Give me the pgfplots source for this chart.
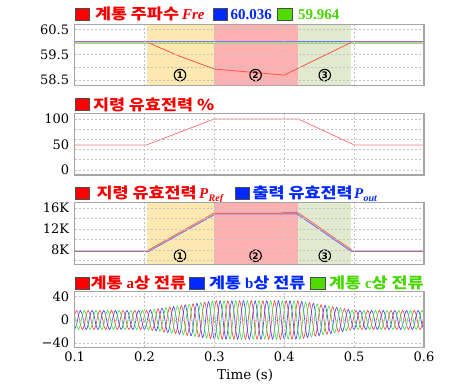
\documentclass[border=0pt]{standalone}
\usepackage{pgfplots}
\usepackage{pgfplotstable}
\pgfplotsset{compat=1.18}
\usepackage{fontspec}
\setmainfont{DejaVu Serif}
\newfontfamily\kr{Noto Sans CJK KR}[FakeStretch=1.16]
\newfontfamily\tms{Liberation Serif}
\newfontfamily\dvs{DejaVu Sans}
\definecolor{shY}{RGB}{253,232,176}
\definecolor{shR}{RGB}{255,176,176}
\definecolor{shG}{RGB}{225,233,207}
\definecolor{txR}{RGB}{245,0,0}
\definecolor{txB}{RGB}{0,40,255}
\definecolor{txG}{RGB}{70,215,0}
\definecolor{sqR}{RGB}{255,0,0}
\definecolor{sqB}{RGB}{0,40,255}
\definecolor{sqG}{RGB}{80,220,0}
\definecolor{lnR}{RGB}{255,85,70}
\definecolor{lnB}{RGB}{120,110,255}
\definecolor{lnG}{RGB}{140,225,110}
\definecolor{wR}{RGB}{255,60,60}
\definecolor{wB}{RGB}{60,60,255}
\definecolor{wG}{RGB}{60,225,60}
\definecolor{frame}{RGB}{165,165,165}
\definecolor{gridc}{RGB}{195,195,195}

\pgfplotstableread{
t a b c
0.1000 8.25 -16.5 8.25
0.1028 16.5 -8.25 -8.25
0.1056 8.25 8.25 -16.5
0.1083 -8.25 16.5 -8.25
0.1111 -16.5 8.25 8.25
0.1139 -8.25 -8.25 16.5
0.1167 8.25 -16.5 8.25
0.1194 16.5 -8.25 -8.25
0.1222 8.25 8.25 -16.5
0.1250 -8.25 16.5 -8.25
0.1278 -16.5 8.25 8.25
0.1306 -8.25 -8.25 16.5
0.1333 8.25 -16.5 8.25
0.1361 16.5 -8.25 -8.25
0.1389 8.25 8.25 -16.5
0.1417 -8.25 16.5 -8.25
0.1444 -16.5 8.25 8.25
0.1472 -8.25 -8.25 16.5
0.1500 8.25 -16.5 8.25
0.1528 16.5 -8.25 -8.25
0.1556 8.25 8.25 -16.5
0.1583 -8.25 16.5 -8.25
0.1611 -16.5 8.25 8.25
0.1639 -8.25 -8.25 16.5
0.1667 8.25 -16.5 8.25
0.1694 16.5 -8.25 -8.25
0.1722 8.25 8.25 -16.5
0.1750 -8.25 16.5 -8.25
0.1778 -16.5 8.25 8.25
0.1806 -8.25 -8.25 16.5
0.1833 8.25 -16.5 8.25
0.1861 16.5 -8.25 -8.25
0.1889 8.25 8.25 -16.5
0.1917 -8.25 16.5 -8.25
0.1944 -16.5 8.25 8.25
0.1972 -8.25 -8.25 16.5
0.2000 8.25 -16.5 8.25
0.2028 16.5 -8.25 -8.25
0.2056 8.47 8.47 -16.94
0.2083 -8.71 17.41 -8.71
0.2111 -17.88 8.94 8.94
0.2139 -9.18 -9.18 18.35
0.2167 9.41 -18.83 9.41
0.2194 19.30 -9.65 -9.65
0.2222 9.89 9.89 -19.77
0.2250 -10.12 20.24 -10.12
0.2278 -20.72 10.36 10.36
0.2306 -10.59 -10.59 21.19
0.2333 10.83 -21.66 10.83
0.2361 22.13 -11.07 -11.07
0.2389 11.30 11.30 -22.61
0.2417 -11.54 23.08 -11.54
0.2444 -23.55 11.78 11.78
0.2472 -12.01 -12.01 24.02
0.2500 12.25 -24.50 12.25
0.2528 24.97 -12.48 -12.48
0.2556 12.72 12.72 -25.44
0.2583 -12.96 25.91 -12.96
0.2611 -26.39 13.19 13.19
0.2639 -13.43 -13.43 26.86
0.2667 13.67 -27.33 13.67
0.2694 27.80 -13.90 -13.90
0.2722 14.14 14.14 -28.28
0.2750 -14.37 28.75 -14.37
0.2778 -29.22 14.61 14.61
0.2806 -14.85 -14.85 29.69
0.2833 15.08 -30.17 15.08
0.2861 30.64 -15.32 -15.32
0.2889 15.56 15.56 -31.11
0.2917 -15.79 31.58 -15.79
0.2944 -32.06 16.03 16.03
0.2972 -16.26 -16.26 32.53
0.3000 16.5 -33 16.5
0.3028 33 -16.5 -16.5
0.3056 16.5 16.5 -33
0.3083 -16.5 33 -16.5
0.3111 -33 16.5 16.5
0.3139 -16.5 -16.5 33
0.3167 16.5 -33 16.5
0.3194 33 -16.5 -16.5
0.3222 16.5 16.5 -33
0.3250 -16.5 33 -16.5
0.3278 -33 16.5 16.5
0.3306 -16.5 -16.5 33
0.3333 16.5 -33 16.5
0.3361 33 -16.5 -16.5
0.3389 16.5 16.5 -33
0.3417 -16.5 33 -16.5
0.3444 -33 16.5 16.5
0.3472 -16.5 -16.5 33
0.3500 16.5 -33 16.5
0.3528 33 -16.5 -16.5
0.3556 16.5 16.5 -33
0.3583 -16.5 33 -16.5
0.3611 -33 16.5 16.5
0.3639 -16.5 -16.5 33
0.3667 16.5 -33 16.5
0.3694 33 -16.5 -16.5
0.3722 16.5 16.5 -33
0.3750 -16.5 33 -16.5
0.3778 -33 16.5 16.5
0.3806 -16.5 -16.5 33
0.3833 16.5 -33 16.5
0.3861 33 -16.5 -16.5
0.3889 16.5 16.5 -33
0.3917 -16.5 33 -16.5
0.3944 -33 16.5 16.5
0.3972 -16.5 -16.5 33
0.4000 16.5 -33 16.5
0.4028 33 -16.5 -16.5
0.4056 16.5 16.5 -33
0.4083 -16.5 33 -16.5
0.4111 -33 16.5 16.5
0.4139 -16.5 -16.5 33
0.4167 16.5 -33 16.5
0.4194 33 -16.5 -16.5
0.4222 16.27 16.27 -32.54
0.4250 -15.98 31.97 -15.98
0.4278 -31.40 15.70 15.70
0.4306 -15.41 -15.41 30.82
0.4333 15.13 -30.25 15.13
0.4361 29.68 -14.84 -14.84
0.4389 14.55 14.55 -29.10
0.4417 -14.27 28.53 -14.27
0.4444 -27.96 13.98 13.98
0.4472 -13.69 -13.69 27.39
0.4500 13.41 -26.81 13.41
0.4528 26.24 -13.12 -13.12
0.4556 12.83 12.83 -25.67
0.4583 -12.55 25.09 -12.55
0.4611 -24.52 12.26 12.26
0.4639 -11.97 -11.97 23.95
0.4667 11.69 -23.38 11.69
0.4694 22.80 -11.40 -11.40
0.4722 11.11 11.11 -22.23
0.4750 -10.83 21.66 -10.83
0.4778 -21.08 10.54 10.54
0.4806 -10.26 -10.26 20.51
0.4833 9.97 -19.94 9.97
0.4861 19.36 -9.68 -9.68
0.4889 9.40 9.40 -18.79
0.4917 -9.11 18.22 -9.11
0.4944 -17.65 8.82 8.82
0.4972 -8.54 -8.54 17.07
0.5000 8.25 -16.5 8.25
0.5028 16.5 -8.25 -8.25
0.5056 8.25 8.25 -16.5
0.5083 -8.25 16.5 -8.25
0.5111 -16.5 8.25 8.25
0.5139 -8.25 -8.25 16.5
0.5167 8.25 -16.5 8.25
0.5194 16.5 -8.25 -8.25
0.5222 8.25 8.25 -16.5
0.5250 -8.25 16.5 -8.25
0.5278 -16.5 8.25 8.25
0.5306 -8.25 -8.25 16.5
0.5333 8.25 -16.5 8.25
0.5361 16.5 -8.25 -8.25
0.5389 8.25 8.25 -16.5
0.5417 -8.25 16.5 -8.25
0.5444 -16.5 8.25 8.25
0.5472 -8.25 -8.25 16.5
0.5500 8.25 -16.5 8.25
0.5528 16.5 -8.25 -8.25
0.5556 8.25 8.25 -16.5
0.5583 -8.25 16.5 -8.25
0.5611 -16.5 8.25 8.25
0.5639 -8.25 -8.25 16.5
0.5667 8.25 -16.5 8.25
0.5694 16.5 -8.25 -8.25
0.5722 8.25 8.25 -16.5
0.5750 -8.25 16.5 -8.25
0.5778 -16.5 8.25 8.25
0.5806 -8.25 -8.25 16.5
0.5833 8.25 -16.5 8.25
0.5861 16.5 -8.25 -8.25
0.5889 8.25 8.25 -16.5
0.5917 -8.25 16.5 -8.25
0.5944 -16.5 8.25 8.25
0.5972 -8.25 -8.25 16.5
0.6000 8.25 -16.5 8.25
}\cur

\pgfplotsset{
  panel/.style={
    scale only axis, width=349.4pt, anchor=north west,
    xmin=0.1, xmax=0.6,
    xtick={0.1,0.2,0.3,0.4,0.5,0.6},
    xticklabels={},
    scaled x ticks=false, scaled y ticks=false,
    major tick length=0pt, minor tick length=0pt,
    axis on top,
    axis line style={draw=frame, line width=1.3pt},
    grid style={draw=gridc, line width=0.7pt, dash pattern=on 2pt off 2pt},
    minor grid style={draw=gridc, line width=0.7pt, dash pattern=on 2pt off 2pt},
    xmajorgrids=true,
    ymajorgrids=true,
    tick label style={font=\fontsize{13}{14}\selectfont},
    yticklabel style={xshift=-2pt},
    /pgf/number format/assume math mode=true,
  },
}
\newcommand\krt{\fontsize{15}{16}\selectfont\kr\bfseries}
\newcommand\tmt{\fontsize{15}{16}\selectfont\tms\bfseries}
\tikzset{lbl/.style={anchor=base west, inner sep=0pt, outer sep=0pt},
  circ/.style={circle, draw=black, line width=1.1pt, inner sep=0pt, minimum size=11.5pt,
    font=\fontsize{9}{9}\selectfont\dvs\bfseries}}

\begin{document}
\begin{tikzpicture}
\path[use as bounding box] (0,0) rectangle (473pt,-389pt);

% ---------- legends ----------
\fill[sqR, draw=black!70, line width=0.5pt] (75pt,-8.3pt) rectangle (89.3pt,-20.7pt);
\node[lbl, text=txR] at (95pt,-19.8pt) {\krt 계통 주파수};
\node[lbl, text=txR] at (182pt,-19.8pt) {\tmt\itshape Fre};
\fill[sqB, draw=black!70, line width=0.5pt] (213.3pt,-8.3pt) rectangle (227.5pt,-20.7pt);
\node[lbl, text=txB] at (230.5pt,-19.8pt) {\tmt 60.036};
\fill[sqG, draw=black!70, line width=0.5pt] (277.7pt,-8.3pt) rectangle (292.5pt,-20.7pt);
\node[lbl, text=txG] at (298pt,-19.8pt) {\tmt 59.964};

\fill[sqR, draw=black!70, line width=0.5pt] (75pt,-98.3pt) rectangle (89.3pt,-110.7pt);
\node[lbl, text=txR] at (93pt,-110pt) {\krt 지령 유효전력 \%};

\fill[sqR, draw=black!70, line width=0.5pt] (75pt,-187.3pt) rectangle (89.3pt,-199pt);
\node[lbl, text=txR] at (96.7pt,-198.5pt) {\krt 지령 유효전력};
\node[lbl, text=txR] at (199pt,-198.5pt) {\tmt\itshape P\kern0.5pt\raisebox{-3pt}{\fontsize{10}{10}\selectfont Ref}};
\fill[sqB, draw=black!70, line width=0.5pt] (235pt,-187.3pt) rectangle (249.5pt,-199pt);
\node[lbl, text=txB] at (252.7pt,-198.5pt) {\krt 출력 유효전력};
\node[lbl, text=txB] at (354pt,-198.5pt) {\tmt\itshape P\kern0.5pt\raisebox{-3pt}{\fontsize{10}{10}\selectfont out}};

\fill[sqR, draw=black!70, line width=0.5pt] (75pt,-277.3pt) rectangle (89.3pt,-289pt);
\node[lbl, text=txR] at (90.7pt,-288.5pt) {\krt 계통 {\tmt a}상 전류};
\fill[sqB, draw=black!70, line width=0.5pt] (189.3pt,-277.3pt) rectangle (204pt,-289pt);
\node[lbl, text=txB] at (209pt,-288.5pt) {\krt 계통 {\tmt b}상 전류};
\fill[sqG, draw=black!70, line width=0.5pt] (310pt,-277.3pt) rectangle (325pt,-289pt);
\node[lbl, text=txG] at (329pt,-288.5pt) {\krt 계통 {\tmt c}상 전류};

% ---------- panel 1 : frequency ----------
\begin{axis}[panel, at={(74.6pt,-24.3pt)}, height=61.4pt,
  ymin=58.27, ymax=60.70,
  ytick={58.5,59.5,60.5}, yticklabels={58.5,59.5,60.5},
  minor ytick={59,60}, yminorgrids=true]
\addplot[draw=none, fill=shY, forget plot] coordinates {(0.203,58.27) (0.299,58.27) (0.299,60.7) (0.203,60.7)} -- cycle;
\addplot[draw=none, fill=shR, forget plot] coordinates {(0.299,58.27) (0.419,58.27) (0.419,60.7) (0.299,60.7)} -- cycle;
\addplot[draw=none, fill=shG, forget plot] coordinates {(0.419,58.27) (0.495,58.27) (0.495,60.7) (0.419,60.7)} -- cycle;
\addplot[lnB, line width=0.9pt] coordinates {(0.1,60.04) (0.6,60.04)};
\addplot[lnG, line width=0.9pt] coordinates {(0.1,59.96) (0.6,59.96)};
\addplot[lnR, line width=0.8pt] coordinates {(0.1,60) (0.203,60) (0.25,59.44) (0.3,58.93) (0.35,58.81) (0.4,58.69) (0.497,60) (0.6,60)};
\node[circ] at (axis cs:0.2508,58.69) {1};
\node[circ] at (axis cs:0.359,58.69) {2};
\node[circ] at (axis cs:0.458,58.69) {3};
\end{axis}

% ---------- panel 2 : reference % ----------
\begin{axis}[panel, at={(74.6pt,-113.3pt)}, height=61.7pt,
  ymin=-10, ymax=111,
  ytick={0,50,100}, yticklabels={0,50,100},
  ymajorgrids=false,
  minor ytick={0,20,40,60,80,100}, yminorgrids=true]
\addplot[color={rgb,255:red,255;green,120;blue,120}, line width=0.8pt] coordinates {(0.1,49) (0.203,49) (0.3,100) (0.42,100) (0.5,49) (0.6,49)};
\end{axis}

% ---------- panel 3 : power ----------
\begin{axis}[panel, at={(74.6pt,-202.3pt)}, height=62pt,
  ymin=5280, ymax=17090,
  ytick={8000,12000,16000}, yticklabels={8K,12K,16K},
  minor ytick={6000,10000,14000}, yminorgrids=true]
\addplot[draw=none, fill=shY, forget plot] coordinates {(0.203,5280) (0.299,5280) (0.299,17090) (0.203,17090)} -- cycle;
\addplot[draw=none, fill=shR, forget plot] coordinates {(0.299,5280) (0.419,5280) (0.419,17090) (0.299,17090)} -- cycle;
\addplot[draw=none, fill=shG, forget plot] coordinates {(0.419,5280) (0.495,5280) (0.495,17090) (0.419,17090)} -- cycle;
\addplot[color={rgb,255:red,110;green,110;blue,255}, line width=0.9pt] coordinates {(0.1,7750) (0.206,7750) (0.302,14900) (0.418,14900) (0.496,7750) (0.6,7750)};
\addplot[color={rgb,255:red,255;green,100;blue,60}, line width=0.8pt] coordinates {(0.1,7800) (0.203,7800) (0.299,15000) (0.395,15000) (0.4,15150) (0.418,15150) (0.421,15000) (0.499,7800) (0.6,7800)};
\node[circ] at (axis cs:0.2508,6910) {1};
\node[circ] at (axis cs:0.359,6910) {2};
\node[circ] at (axis cs:0.458,6910) {3};
\end{axis}

% ---------- panel 4 : currents ----------
\begin{axis}[panel, at={(74.6pt,-291.7pt)}, height=55.6pt,
  ymin=-47, ymax=48.6,
  ytick={-40,0,40}, yticklabels={−40,0,40},
  xticklabels={0.1,0.2,0.3,0.4,0.5,0.6},
  xticklabel style={yshift=-1.5pt},
  xlabel={Time (s)},
  xlabel style={font=\fontsize{13.5}{14}\selectfont, at={(axis description cs:0.488,-0.5)}, anchor=center}]
\addplot[wR, line width=0.6pt, smooth] table[x=t, y=a] {\cur};
\addplot[wB, line width=0.6pt, smooth] table[x=t, y=b] {\cur};
\addplot[wG, line width=0.6pt, smooth] table[x=t, y=c] {\cur};
\end{axis}
\end{tikzpicture}
\end{document}
